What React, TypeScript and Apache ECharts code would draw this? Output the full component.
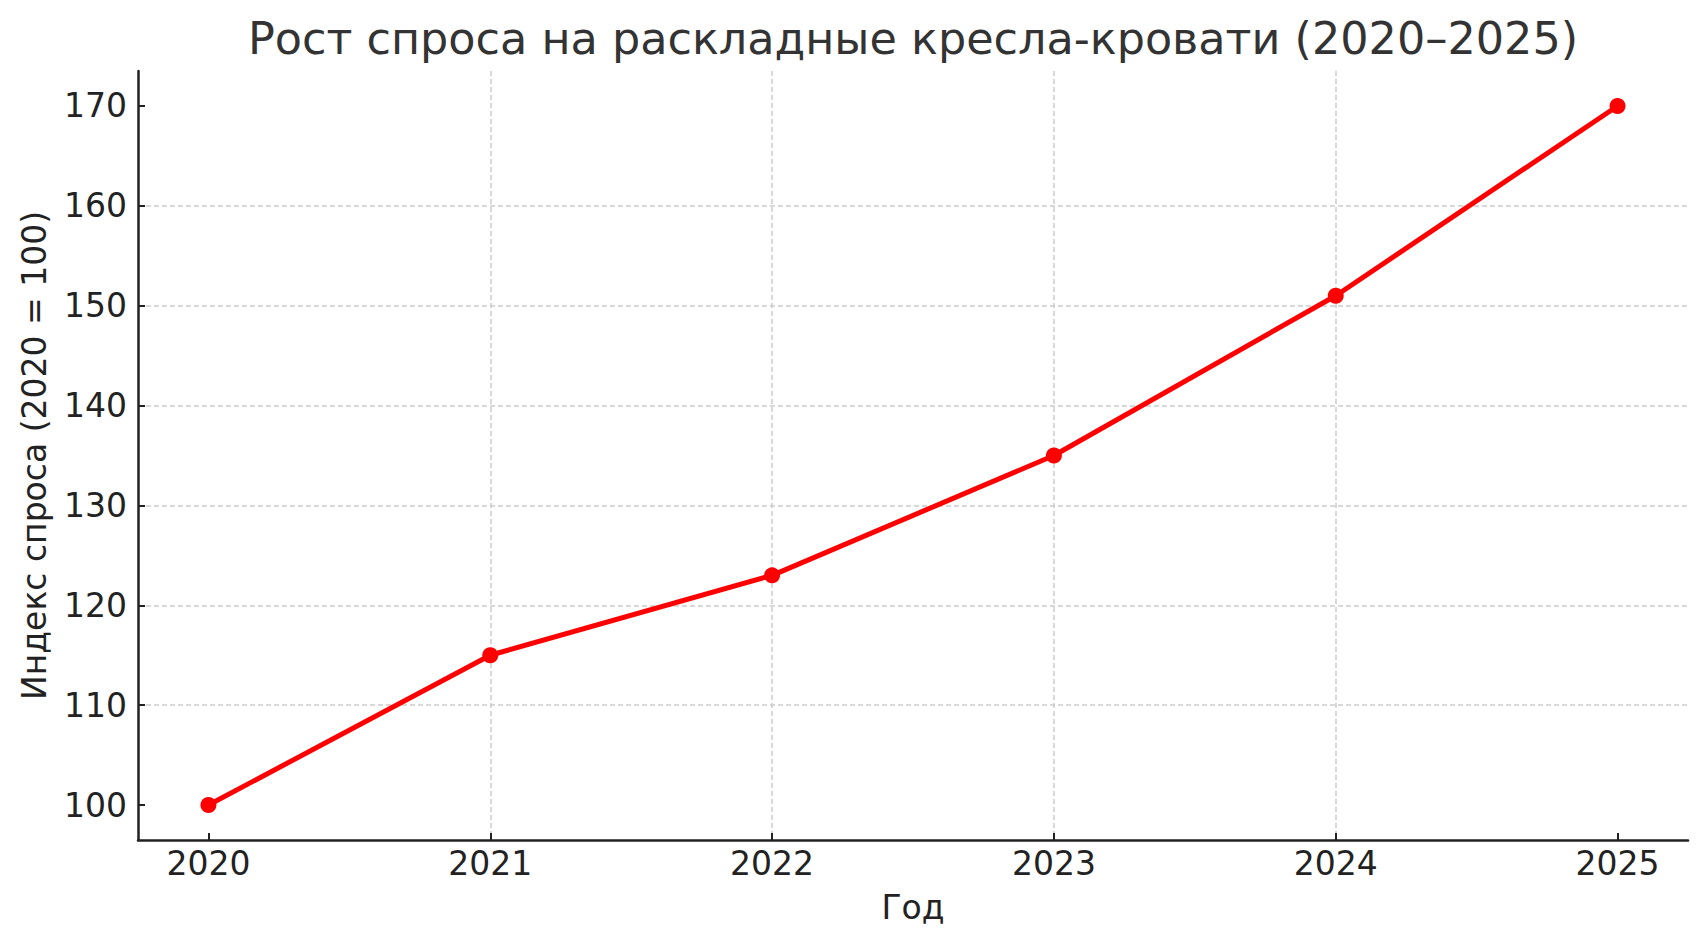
import React, { useEffect, useRef } from "react";
import * as echarts from "echarts";

const years = [2020, 2021, 2022, 2023, 2024, 2025];
const demandIndex = [100, 115, 123, 135, 151, 170];
const yTicks = [100, 110, 120, 130, 140, 150, 160, 170];
const xTicks = [2020, 2021, 2022, 2023, 2024, 2025];

const titleText = "Рост спроса на раскладные кресла-кровати (2020–2025)";
const xName = "Год";
const yName = "Индекс спроса (2020 = 100)";

const FONT = "'DejaVu Sans', sans-serif";

export default function App() {
  const ref = useRef<HTMLDivElement>(null);

  useEffect(() => {
    document.body.style.margin = "0";
    if (!ref.current) return;
    const chart = echarts.init(ref.current, null, { renderer: "svg" });

    const gridColor = "#cccccc";
    const axisColor = "#222222";

    const option: any = {
      animation: false,
      backgroundColor: "#ffffff",
      title: {
        text: titleText,
        left: 913,
        top: 16,
        padding: 0,
        textAlign: "center",
        textStyle: {
          fontFamily: FONT,
          fontSize: 44.5,
          fontWeight: "normal",
          color: "#333333",
        },
      },
      grid: {
        left: 138,
        right: 19,
        top: 71,
        bottom: 107,
        containLabel: false,
      },
      xAxis: {
        type: "value",
        min: 2019.75,
        max: 2025.25,
        name: xName,
        nameLocation: "middle",
        nameGap: 51,
        nameTextStyle: { fontFamily: FONT, fontSize: 33, color: axisColor },
        axisLine: { show: true, onZero: false, lineStyle: { color: axisColor, width: 2.5 } },
        axisTick: {
          show: true,
          inside: true,
          length: 7,
          customValues: xTicks,
          lineStyle: { color: axisColor, width: 2 },
        },
        axisLabel: {
          customValues: xTicks,
          margin: 7,
          fontFamily: FONT,
          fontSize: 33,
          color: axisColor,
          formatter: (v: number) => String(v),
        },
        splitLine: {
          show: true,
          showMinLine: false,
          showMaxLine: false,
          lineStyle: { color: gridColor, width: 1.5, type: [5, 3] },
        },
      },
      yAxis: {
        type: "value",
        min: 96.5,
        max: 173.5,
        name: yName,
        nameLocation: "middle",
        nameGap: 87,
        nameTextStyle: { fontFamily: FONT, fontSize: 33, color: axisColor },
        axisLine: { show: true, onZero: false, lineStyle: { color: axisColor, width: 2.5 } },
        axisTick: {
          show: true,
          inside: true,
          length: 7,
          customValues: yTicks,
          lineStyle: { color: axisColor, width: 2 },
        },
        axisLabel: {
          customValues: yTicks,
          margin: 11,
          fontFamily: FONT,
          fontSize: 33,
          color: axisColor,
          formatter: (v: number) => String(v),
        },
        splitLine: {
          show: true,
          showMinLine: false,
          showMaxLine: false,
          lineStyle: { color: gridColor, width: 1.5, type: [5, 3] },
        },
      },
      series: [
        {
          type: "line",
          data: years.map((y, i) => [y, demandIndex[i]]),
          symbol: "circle",
          symbolSize: 16,
          showSymbol: true,
          lineStyle: { color: "#ff0000", width: 5 },
          itemStyle: { color: "#ff0000" },
          z: 5,
        },
      ],
    };

    chart.setOption(option);
    return () => chart.dispose();
  }, []);

  return (
    <div
      ref={ref}
      style={{ width: 1707, height: 947, overflow: "hidden", background: "#fff" }}
    />
  );
}
